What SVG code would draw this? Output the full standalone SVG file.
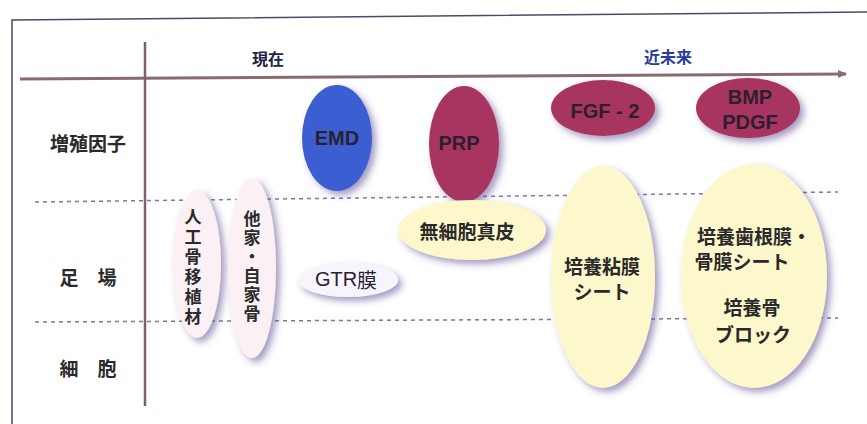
<svg xmlns="http://www.w3.org/2000/svg" width="867" height="424" viewBox="0 0 867 424">
<style>
.jp{font-family:"Noto Sans CJK JP","Noto Sans",sans-serif;font-weight:bold;fill:#2a2a2a;font-size:19px;text-anchor:middle;dominant-baseline:central}
.vt{font-family:"Noto Sans CJK JP","Noto Sans",sans-serif;font-weight:bold;fill:#2a2a2a;font-size:17px;writing-mode:vertical-rl;text-orientation:upright}
.en{font-family:"Liberation Sans","Noto Sans CJK JP",sans-serif;font-weight:bold;fill:#2a2030;font-size:20px;text-anchor:middle;dominant-baseline:central}
.hd{font-family:"Noto Sans CJK JP",sans-serif;font-weight:bold;font-size:16px;text-anchor:middle;dominant-baseline:central}
.dash{stroke:#7a7a98;stroke-width:1.5;stroke-dasharray:4 4;fill:none}
.grow{fill:#a8365e;filter:url(#sh)}
.yel{fill:#fdf7cc;filter:url(#sh)}
.pink{fill:#fbf0f4;filter:url(#sh)}
</style>
<defs>
<filter id="sh" x="-30%" y="-30%" width="160%" height="160%">
<feDropShadow dx="4" dy="4" stdDeviation="3.5" flood-color="#5a4a90" flood-opacity="0.55"/>
</filter>
<marker id="arr" markerWidth="10" markerHeight="10" refX="8" refY="5" orient="auto" markerUnits="userSpaceOnUse">
<path d="M0,1 L9,5 L0,9 Z" fill="#8a6a6e"/>
</marker>
</defs>
<rect width="867" height="424" fill="#ffffff"/>
<g id="frame">
<path d="M12,424 L12,20 L867,12" fill="none" stroke="#4a4a6a" stroke-width="1.5"/>
</g>
<g id="connectors">
<line x1="20" y1="79" x2="846" y2="74" stroke="#8a6a6e" stroke-width="3" marker-end="url(#arr)"/>
<line x1="145" y1="42" x2="145" y2="406" stroke="#7a6070" stroke-width="2.5"/>
<line class="dash" x1="35" y1="202" x2="838" y2="192"/>
<line class="dash" x1="35" y1="322" x2="838" y2="318"/>
</g>
<g id="headers">
<text class="hd" x="268" y="58" fill="#1e2448">現在</text>
<text class="hd" x="668" y="56" fill="#2a3aa0">近未来</text>
</g>
<g id="rows">
<text class="jp" x="88" y="142">増殖因子</text>
<text class="jp" x="88" y="276" xml:space="preserve">足　場</text>
<text class="jp" x="88" y="367" xml:space="preserve">細　胞</text>
</g>
<g id="emd">
<ellipse cx="337" cy="138" rx="35" ry="53" fill="#3a5ed2" filter="url(#sh)"/>
<text class="en" x="337" y="138">EMD</text>
</g>
<g id="prp">
<ellipse class="grow" cx="464" cy="144" rx="35" ry="58"/>
<text class="en" x="459" y="143">PRP</text>
</g>
<g id="fgf2">
<ellipse class="grow" cx="603" cy="108" rx="52" ry="28"/>
<text class="en" x="605" y="111">FGF - 2</text>
</g>
<g id="bmp">
<ellipse class="grow" cx="748" cy="108" rx="52" ry="30"/>
<text class="en" x="750" y="97">BMP</text>
<text class="en" x="750" y="122">PDGF</text>
</g>
<g id="artificial-bone">
<ellipse class="pink" cx="197" cy="264" rx="24" ry="74"/>
<text class="vt" x="193" y="208" style="letter-spacing:3px">人工骨移植材</text>
</g>
<g id="auto-bone">
<ellipse class="pink" cx="252" cy="268" rx="24" ry="90"/>
<text class="vt" x="252" y="210" style="letter-spacing:2px">他家・自家骨</text>
</g>
<g id="gtr">
<ellipse cx="348" cy="280" rx="50" ry="17" fill="#f7f5fb" filter="url(#sh)"/>
<text class="en" x="346" y="279" style="font-weight:normal">GTR<tspan style="font-family:'Noto Sans CJK JP',sans-serif">膜</tspan></text>
</g>
<g id="dermis">
<ellipse class="yel" cx="472" cy="230" rx="74" ry="30"/>
<text class="jp" x="467" y="230">無細胞真皮</text>
</g>
<g id="mucosa-sheet">
<ellipse class="yel" cx="603" cy="277" rx="52" ry="111"/>
<text class="jp" x="602" y="265">培養粘膜</text>
<text class="jp" x="602" y="290">シート</text>
</g>
<g id="cultured">
<ellipse class="yel" cx="754" cy="276" rx="73" ry="112"/>
<text class="jp" x="754" y="235">培養歯根膜・</text>
<text class="jp" x="742" y="260">骨膜シート</text>
<text class="jp" x="752" y="306">培養骨</text>
<text class="jp" x="753" y="333">ブロック</text>
</g>
</svg>
